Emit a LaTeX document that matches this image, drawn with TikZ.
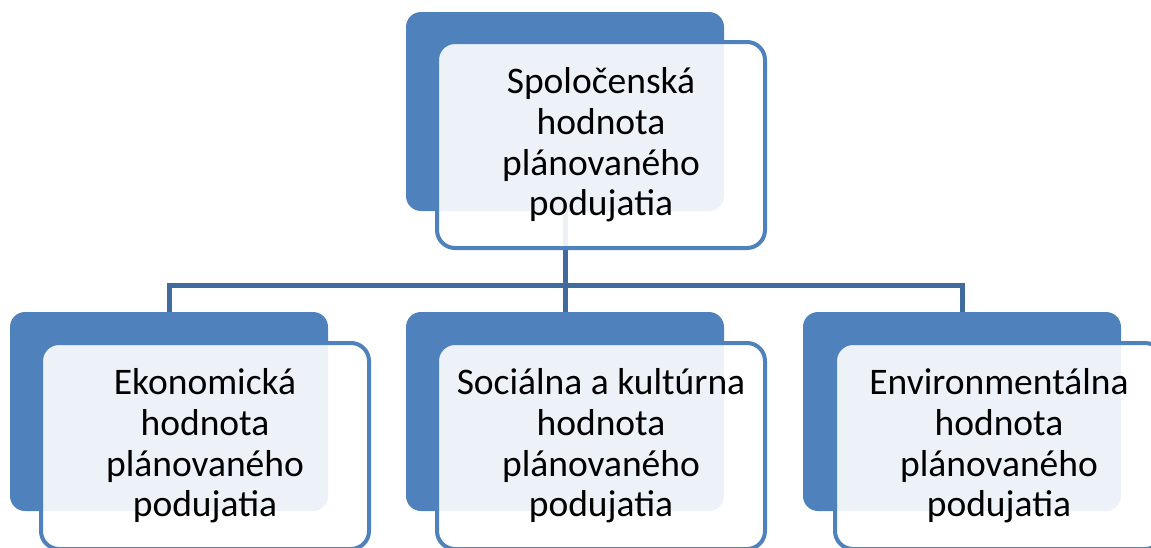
\documentclass[tikz,border=0pt]{standalone}
\usepackage{fontspec}
\setmainfont{Carlito}
\usepackage{xcolor}
\usepackage{tikz}
\usetikzlibrary{backgrounds}

\definecolor{boxblue}{RGB}{79,129,189}
\definecolor{linkblue}{RGB}{65,106,157}

\begin{document}
\begin{tikzpicture}[x=1pt,y=-1pt,
    backbox/.style={rectangle,rounded corners=15pt,fill=boxblue,minimum width=318pt,minimum height=199pt,inner sep=0pt},
    frontbox/.style={rectangle,rounded corners=18pt,draw=boxblue,line width=4pt,fill=white,fill opacity=0.9,text opacity=1,
        minimum width=328pt,minimum height=206pt,inner sep=0pt,align=center,font=\fontsize{37.5}{40.7}\selectfont},
    link/.style={draw=linkblue,line width=5pt}]
    \useasboundingbox (0,0) rectangle (1151,547);
    \clip (0,0) rectangle (1151,547);
    % top level
    \node[backbox] (topback) at (565,111.5) {};
    \node[frontbox] (top) at (601,145) {Spoločenská\\hodnota\\plánovaného\\podujatia};
    % second level
    \node[backbox] (ekoback) at (169,411.5) {};
    \node[frontbox] (eko) at (205,446) {Ekonomická\\hodnota\\plánovaného\\podujatia};
    \node[backbox] (socback) at (565,411.5) {};
    \node[frontbox] (soc) at (601,446) {Sociálna a kultúrna\\hodnota\\plánovaného\\podujatia};
    \node[backbox] (envback) at (962,411.5) {};
    \node[frontbox] (env) at (999,446) {Environmentálna\\hodnota\\plánovaného\\podujatia};
    \coordinate (bus) at (565,285);
    \begin{pgfonlayer}{background}
        \draw[link] (topback.center) -- (bus);
        \draw[link] (ekoback.center) |- (bus) -| (envback.center);
        \draw[link] (socback.center) -- (bus);
    \end{pgfonlayer}
\end{tikzpicture}
\end{document}
